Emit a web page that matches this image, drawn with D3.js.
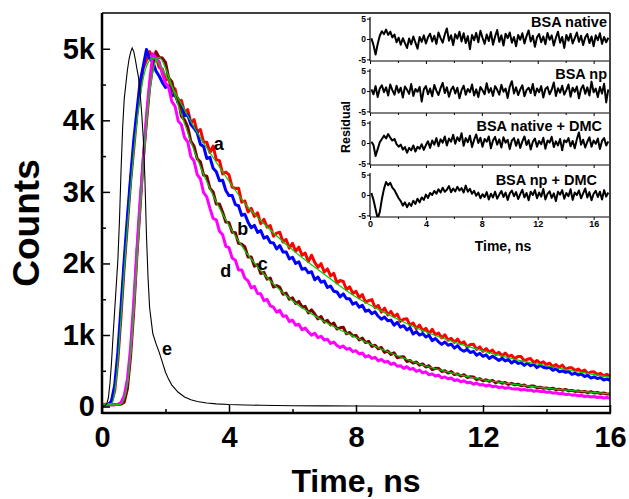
<!DOCTYPE html>
<html>
<head>
<meta charset="utf-8">
<script src="https://d3js.org/d3.v7.min.js"></script>
<style>
  body { margin: 0; background: #fff; }
  svg { display: block; }
</style>
</head>
<body>
<svg width="629" height="499"></svg>
<script>
const FONT = '"Liberation Sans", Arial, sans-serif';

// decay traces are sampled every 0.1 ns, 0..16 ns
const channelTimes = d3.range(161).map(i => i / 10);

// a - red
const decayA = [
  24, 31, 26, 62, 215, 650, 1270, 1960, 2540, 3140,
  3600, 4080, 4410, 4730, 4840, 4960, 4880, 4900, 4740, 4720,
  4560, 4590, 4410, 4440, 4250, 4280, 4110, 4150, 3960, 4010,
  3837, 3871, 3697, 3693, 3551, 3640, 3452, 3436, 3251, 3278,
  3237, 3067, 3049, 3052, 2857, 2873, 2720, 2770, 2658, 2707,
  2557, 2617, 2507, 2529, 2381, 2423, 2436, 2300, 2336, 2213,
  2281, 2168, 2227, 2116, 2145, 2025, 2115, 2015, 1946, 1997,
  1880, 1923, 1826, 1861, 1726, 1761, 1748, 1635, 1673, 1581,
  1610, 1522, 1565, 1458, 1481, 1495, 1380, 1415, 1320, 1376,
  1282, 1329, 1256, 1293, 1191, 1219, 1228, 1137, 1167, 1087,
  1139, 1061, 1093, 1016, 1079, 1002, 1026, 960, 1004, 928,
  953, 898, 943, 878, 904, 830, 866, 872, 798, 835,
  772, 811, 760, 789, 729, 758, 708, 748, 698, 718,
  668, 699, 699, 640, 661, 671, 613, 644, 605, 626,
  586, 606, 557, 587, 548, 579, 520, 541, 542, 504,
  525, 487, 509, 461, 483, 485, 448, 465, 428, 451,
  425
];

// b - blue
const decayB = [
  22, 28, 25, 80, 300, 760, 1400, 2050, 2650, 3200,
  3720, 4130, 4540, 4760, 4990, 4860, 4820, 4690, 4620, 4530,
  4460, 4480, 4340, 4365, 4240, 4221, 4064, 4078, 3943, 3890,
  3826, 3664, 3635, 3467, 3482, 3330, 3282, 3156, 3162, 3019,
  2948, 2949, 2822, 2806, 2671, 2688, 2577, 2500, 2532, 2435,
  2459, 2353, 2377, 2292, 2287, 2203, 2250, 2160, 2161, 2063,
  2086, 1999, 2023, 1918, 1933, 1869, 1885, 1772, 1810, 1737,
  1755, 1664, 1683, 1612, 1602, 1533, 1574, 1506, 1508, 1431,
  1454, 1390, 1416, 1332, 1349, 1297, 1324, 1262, 1221, 1250,
  1199, 1208, 1138, 1178, 1109, 1130, 1071, 1102, 1014, 1047,
  999, 1021, 973, 996, 919, 952, 905, 869, 903, 857,
  872, 817, 852, 797, 773, 799, 755, 771, 718, 745,
  702, 722, 673, 703, 674, 645, 676, 637, 658, 609,
  641, 602, 614, 576, 608, 570, 592, 544, 576, 549,
  538, 548, 507, 527, 487, 498, 478, 489, 450, 466,
  442, 453, 420, 436, 398, 415, 392, 405, 372, 385,
  368
];

// c - brown
const decayC = [
  26, 23, 28, 25, 27, 30, 34, 60, 250, 700,
  1340, 2120, 2790, 3470, 3980, 4460, 4760, 4960, 4880, 4870,
  4810, 4590, 4540, 4340, 4300, 4060, 4005, 3910, 3705, 3640,
  3460, 3420, 3235, 3220, 3050, 3000, 2830, 2830, 2715, 2580,
  2570, 2435, 2430, 2280, 2270, 2230, 2090, 2090, 1960, 1985,
  1860, 1875, 1780, 1795, 1670, 1690, 1665, 1570, 1585, 1500,
  1520, 1440, 1470, 1390, 1400, 1310, 1352, 1294, 1226, 1258,
  1180, 1206, 1142, 1168, 1084, 1100, 1108, 1017, 1036, 985,
  995, 931, 957, 894, 911, 839, 858, 807, 826, 756,
  777, 728, 750, 682, 694, 697, 630, 644, 608, 623,
  579, 596, 553, 570, 517, 535, 533, 491, 500, 469,
  488, 447, 457, 426, 446, 407, 417, 413, 379, 390,
  361, 374, 352, 366, 334, 348, 327, 336, 310, 324,
  303, 313, 292, 302, 276, 286, 286, 266, 271, 256,
  261, 247, 257, 238, 243, 229, 240, 220, 226, 212,
  218, 205, 211, 197, 208, 190, 196, 183, 189, 176,
  177
];

// d - magenta
const decayD = [
  25, 28, 24, 27, 26, 31, 58, 150, 380, 820,
  1460, 2190, 2870, 3440, 4060, 4540, 4930, 4870, 4820, 4650,
  4520, 4460, 4260, 4200, 3990, 3940, 3760, 3700, 3490, 3430,
  3240, 3180, 2990, 2930, 2770, 2630, 2610, 2450, 2400, 2240,
  2220, 2075, 2045, 1910, 1910, 1795, 1755, 1660, 1680, 1580,
  1575, 1480, 1498, 1407, 1388, 1320, 1345, 1260, 1268, 1187,
  1207, 1138, 1150, 1073, 1097, 1042, 998, 1025, 963, 982,
  931, 941, 881, 902, 853, 825, 847, 800, 813, 767,
  781, 735, 749, 693, 713, 673, 688, 639, 660, 621,
  632, 589, 606, 563, 571, 534, 557, 520, 534, 492,
  510, 472, 485, 444, 457, 426, 440, 400, 414, 389,
  399, 365, 375, 346, 362, 334, 340, 312, 329, 301,
  308, 287, 302, 276, 286, 265, 275, 255, 265, 250,
  245, 250, 230, 241, 226, 232, 212, 223, 209, 215,
  199, 204, 188, 193, 178, 183, 168, 173, 159, 164,
  150, 156, 141, 147, 134, 140, 126, 133, 119, 126,
  115
];

// e - instrument response (black)
const irfTimes = [
  0, 0.1, 0.15, 0.2, 0.25, 0.3, 0.35, 0.4, 0.45, 0.5,
  0.55, 0.6, 0.65, 0.7, 0.75, 0.8, 0.85, 0.9, 0.95, 1.0,
  1.05, 1.1, 1.15, 1.2, 1.25, 1.3, 1.35, 1.4, 1.45, 1.5,
  1.6, 1.7, 1.8, 1.9, 2.0, 2.1, 2.2, 2.4, 2.6, 2.8,
  3.0, 3.3, 3.6, 4.0, 4.5, 5, 6, 7, 8, 10,
  12, 14, 16
];
const irfCounts = [
  8, 12, 40, 120, 320, 620, 1000, 1350, 1700, 2050,
  2600, 3300, 3900, 4300, 4500, 4700, 4850, 4950, 5010, 4960,
  4850, 4720, 4600, 4380, 4100, 3750, 3200, 2400, 1800, 1380,
  1020, 880, 760, 620, 480, 380, 300, 200, 135, 95,
  70, 50, 38, 28, 22, 18, 12, 10, 8, 5,
  4, 3, 3
];

// fitted curves (green)
const fitTimes = [
  0, 0.3, 0.4, 0.5, 0.6, 0.7, 0.8, 0.9, 1.0, 1.1,
  1.2, 1.3, 1.4, 1.5, 1.6, 1.7, 1.8, 1.9, 2.0, 2.5,
  3.0, 3.5, 4.0, 4.5, 5.0, 6.0, 7.0, 8.0, 9.0, 10.0,
  11.0, 12.0, 13.0, 14.0, 15.0, 16.0
];
const fitA = [
  25, 40, 200, 620, 1250, 1900, 2500, 3050, 3550, 3980,
  4330, 4590, 4750, 4840, 4870, 4850, 4790, 4720, 4640, 4230,
  3830, 3480, 3150, 2840, 2600, 2190, 1850, 1530, 1290, 1080,
  915, 778, 660, 570, 485, 410
];
const fitC = [
  25, 25, 25, 26, 35, 110, 310, 740, 1340, 2050,
  2750, 3400, 3950, 4380, 4680, 4840, 4880, 4830, 4730, 4080,
  3460, 2950, 2530, 2180, 1900, 1480, 1190, 965, 765, 595,
  470, 375, 310, 258, 215, 178
];

// residuals, every 0.15 ns from 0.1 ns
const residTimes = d3.range(114).map(i => 0.1 + i * 0.15);
const residNative = [
  0.2, -1.5, -3.8, -1.2, 0.8, 1.9, 1.2, 2.3, 1.0, 1.8,
  0.4, 1.1, -0.8, 0.3, -1.4, 0.2, -1.0, -2.2, 0.1, -1.3,
  0.6, -0.9, -2.4, 0.5, -0.7, 0.9, -1.1, 0.4, 1.3, -0.6,
  0.8, -1.2, 1.6, 0.2, -0.9, 1.1, 2.6, -0.4, 0.9, -1.5,
  1.2, 0.1, 1.8, -0.6, 1.4, -1.0, 0.7, -2.5, 1.0, -0.3,
  1.5, -0.8, 2.0, 0.3, -1.2, 1.1, -0.5, 1.7, -1.4, 0.6,
  2.2, -0.7, 0.9, -1.6, 1.3, 0.2, 1.6, -0.9, 0.5, -1.8,
  1.0, -0.2, 1.4, -1.1, 0.7, 2.1, -0.6, 0.8, -1.9, 0.4,
  1.2, -0.8, 0.6, -1.3, 1.5, -0.2, 0.9, -1.6, 0.3, 1.8,
  -0.9, 0.5, -2.2, 1.0, -0.4, 1.3, -1.1, 0.2, 1.6, -0.7,
  0.8, -1.5, 0.4, 1.2, -1.0, 0.6, -1.8, 0.9, -0.3, 1.4,
  -1.2, 0.5, -0.8, 0.3
];
const residNp = [
  0.4, -0.8, 1.2, -1.5, 0.6, 1.4, -0.3, 0.9, -1.1, 1.6,
  0.2, -0.9, 1.3, -0.4, 0.8, -1.6, 1.1, 0.3, -0.7, 1.7,
  -1.2, 0.5, -0.2, 1.0, -2.6, 0.4, 1.2, -0.8, 0.6, -1.3,
  1.5, 0.1, -1.0, 0.7, 2.0, -0.5, 0.9, -1.4, 0.3, 1.1,
  -0.6, 0.8, -1.8, 0.2, 1.3, -0.9, 0.5, -0.3, 1.6, -1.1,
  0.4, -1.5, 1.0, 0.2, -0.8, 1.9, -0.4, 0.7, -1.2, 1.2,
  0.3, -0.9, 1.5, -0.2, 0.6, -1.7, 1.1, 2.4, -0.6, 0.9,
  -1.0, 0.4, 1.4, -1.3, 0.2, 0.8, -0.5, 1.7, -1.1, 0.6,
  -0.3, 1.2, -1.6, 0.5, 1.0, -0.8, 0.3, 2.1, -1.2, 0.7,
  -0.4, 1.3, -0.9, 0.2, 1.6, -1.4, 0.8, -0.2, 1.1, -1.8,
  0.5, 1.4, -0.7, 0.9, -1.1, 2.3, -0.3, 0.6, -1.5, 1.0,
  -0.6, 1.8, -2.8, 0.4
];
const residNativeDmc = [
  0.3, -0.5, -3.2, -1.5, 0.2, 1.0, 1.8, 1.1, 2.2, 1.3,
  0.6, 1.0, -0.3, -0.9, -0.4, -1.6, -1.0, -2.4, -1.2, -1.8,
  -0.6, -2.1, -0.9, -1.4, -0.3, -1.7, -0.5, 0.4, -1.2, 0.6,
  -0.4, 1.2, -0.8, 0.9, 0.1, 1.6, -0.6, 1.1, 0.3, 2.0,
  -0.2, 1.4, 0.5, 2.4, -0.7, 1.2, 0.2, 1.8, -1.0, 0.8,
  2.1, 0.0, 1.3, -0.9, 1.0, 0.3, 1.6, -1.3, 0.6, 1.5,
  -0.4, 0.9, -1.1, 1.4, 0.1, 0.8, -1.5, 0.6, 1.2, -0.7,
  0.9, -1.2, 0.4, 1.6, -0.5, 0.7, -1.6, 0.3, 1.1, -0.9,
  0.5, -0.3, 1.3, -1.4, 0.6, 0.1, 1.5, -1.0, 0.4, -0.6,
  1.0, -1.8, 0.7, 0.2, 1.2, -0.8, 0.5, -1.3, 0.9, 2.6,
  -0.4, 0.8, -1.1, 0.3, 1.4, -0.9, 0.6, -0.2, 1.1, -1.5,
  0.5, 1.2, -0.6, 0.4
];
const residNpDmc = [
  0.5, -1.2, -3.5, -5.8, -4.2, -1.0, 1.5, 3.2, 2.4, 3.0,
  1.8, 1.2, 0.2, -0.8, -1.5, -2.6, -1.8, -3.0, -2.0, -2.7,
  -1.4, -2.2, -0.9, -1.8, -0.6, -1.2, 0.1, -0.7, 0.5, 0.0,
  1.0, 0.3, 1.4, 0.6, 1.8, 0.8, 1.3, 2.2, 0.7, 1.6,
  0.9, 2.0, 1.1, 1.7, 0.6, 2.3, 0.8, 1.5, 0.3, 1.0,
  -0.2, 0.6, -0.8, 0.2, -0.5, 0.7, -1.1, 0.3, -0.6, 0.8,
  -0.9, 0.1, 1.0, -0.5, 0.6, -1.2, 0.4, 1.1, -0.3, 0.7,
  -1.0, 0.2, 1.3, -0.6, 0.5, -1.3, 0.8, 0.0, 1.2, -0.8,
  0.6, -0.4, 1.5, -1.1, 0.3, 0.9, -0.7, 0.4, -1.5, 0.8,
  0.1, 1.2, -0.9, 0.5, -0.3, 1.4, -1.2, 0.6, 0.0, 1.1,
  -0.8, 0.4, 1.6, -0.6, 0.7, -1.3, 0.3, 1.0, -0.5, 0.8,
  -1.1, 1.2, -0.4, 0.6
];

const countTicks = [0, 1000, 2000, 3000, 4000, 5000];
const countLabels = ["0", "1k", "2k", "3k", "4k", "5k"];
const countMinor = [500, 1500, 2500, 3500, 4500];
const timeTicks = [0, 4, 8, 12, 16];
const timeMinor = [2, 6, 10, 14];
const residTicks = [-5, 0, 5];
const panelNames = ["BSA native", "BSA np", "BSA native + DMC", "BSA np + DMC"];

// curve letters, anchored in data space (time, counts)
const curveTags = [
  { text: "a", t: 3.68, v: 3584 },
  { text: "b", t: 4.43, v: 2400 },
  { text: "c", t: 5.06, v: 1908 },
  { text: "d", t: 3.9, v: 1810 },
  { text: "e", t: 2.05, v: 720 }
];

const svg = d3.select("svg");
const plot = { left: 102, right: 610, top: 13, bottom: 413 };

const x = d3.scaleLinear().domain([0, 16]).range([plot.left, plot.right]);
const y = d3.scaleLinear().domain([-90, 5500]).range([plot.bottom, plot.top]);

function styleText(sel, size) {
  sel.attr("font-family", FONT).attr("font-weight", "bold")
    .attr("font-size", size).attr("fill", "#000");
}

// ---- main plot curves ----
svg.append("defs").append("clipPath").attr("id", "plotClip")
  .append("rect")
  .attr("x", plot.left).attr("y", plot.top)
  .attr("width", plot.right - plot.left)
  .attr("height", plot.bottom - plot.top);

const curves = svg.append("g").attr("clip-path", "url(#plotClip)");

const traceLine = d3.line()
  .x((d, i) => x(channelTimes[i]))
  .y(d => y(d));

const traces = [
  { values: decayA, color: "#ff0000" },
  { values: decayB, color: "#0000ff" },
  { values: decayC, color: "#800000" },
  { values: decayD, color: "#ff00ff" }
];
traces.forEach(tr => {
  curves.append("path")
    .attr("d", traceLine(tr.values))
    .attr("fill", "none")
    .attr("stroke", tr.color)
    .attr("stroke-width", 3)
    .attr("stroke-linejoin", "round");
});

const fitLine = d3.line()
  .curve(d3.curveMonotoneX)
  .x((d, i) => x(fitTimes[i]))
  .y(d => y(d));

[fitA, fitC].forEach(f => {
  curves.append("path")
    .attr("d", fitLine(f))
    .attr("fill", "none")
    .attr("stroke", "#00d000")
    .attr("stroke-width", 1.2);
});

const irfLine = d3.line()
  .x((d, i) => x(irfTimes[i]))
  .y(d => y(d));

curves.append("path")
  .attr("d", irfLine(irfCounts))
  .attr("fill", "none")
  .attr("stroke", "#000")
  .attr("stroke-width", 1.1);

// ---- main axes ----
const xAxis = svg.append("g")
  .attr("transform", `translate(0,${plot.bottom})`)
  .call(d3.axisBottom(x).tickValues(timeTicks).tickSizeInner(-8).tickSizeOuter(0).tickPadding(13));
xAxis.select(".domain").remove();
xAxis.selectAll("line").attr("stroke-width", 1.5);
styleText(xAxis, 29);
styleText(xAxis.selectAll("text"), 29);

const xMinor = svg.append("g")
  .attr("transform", `translate(0,${plot.bottom})`)
  .call(d3.axisBottom(x).tickValues(timeMinor).tickSizeInner(-4).tickSizeOuter(0).tickFormat(""));
xMinor.select(".domain").remove();
xMinor.selectAll("line").attr("stroke-width", 1.5);

const yAxis = svg.append("g")
  .attr("transform", `translate(${plot.left},0)`)
  .call(d3.axisLeft(y).tickValues(countTicks).tickSizeInner(-8).tickSizeOuter(0).tickPadding(7)
    .tickFormat((d, i) => countLabels[i]));
yAxis.select(".domain").remove();
yAxis.selectAll("line").attr("stroke-width", 1.5);
styleText(yAxis, 29);
styleText(yAxis.selectAll("text"), 29);

const yMinor = svg.append("g")
  .attr("transform", `translate(${plot.left},0)`)
  .call(d3.axisLeft(y).tickValues(countMinor).tickSizeInner(-4).tickSizeOuter(0).tickFormat(""));
yMinor.select(".domain").remove();
yMinor.selectAll("line").attr("stroke-width", 1.5);

// frame
const frame = svg.append("g").attr("stroke", "#000").attr("fill", "none");
frame.append("line").attr("x1", plot.left).attr("x2", plot.right + 1)
  .attr("y1", plot.bottom).attr("y2", plot.bottom).attr("stroke-width", 2.5);
frame.append("line").attr("x1", plot.left).attr("x2", plot.left)
  .attr("y1", plot.top).attr("y2", plot.bottom + 1).attr("stroke-width", 2.5);
frame.append("line").attr("x1", plot.left).attr("x2", plot.right)
  .attr("y1", plot.top).attr("y2", plot.top).attr("stroke-width", 1.5);
frame.append("line").attr("x1", plot.right).attr("x2", plot.right)
  .attr("y1", plot.top).attr("y2", plot.bottom).attr("stroke-width", 1.5);

// axis titles
svg.append("text")
  .attr("x", (plot.left + plot.right) / 2).attr("y", 492)
  .attr("text-anchor", "middle")
  .text("Time, ns")
  .call(styleText, 32);

svg.append("text")
  .attr("transform", "translate(39,223) rotate(-90)")
  .attr("text-anchor", "middle")
  .text("Counts")
  .call(styleText, 37);

// curve letters
svg.selectAll(".tag")
  .data(curveTags)
  .enter()
  .append("text")
  .attr("class", "tag")
  .attr("x", d => x(d.t))
  .attr("y", d => y(d.v))
  .attr("text-anchor", "middle")
  .text(d => d.text)
  .call(styleText, 18);

// ---- inset with residuals ----
const inset = svg.append("g");
inset.append("rect")
  .attr("x", 336).attr("y", plot.top + 1)
  .attr("width", plot.right - 337).attr("height", 244)
  .attr("fill", "#fff");

const rx = d3.scaleLinear().domain([0, 17.1]).range([370, 609]);
const panelTop = [17, 69, 121, 173];
const panelH = 44;
const nameRight = [607, 607, 602, 597];
const nameBase = [27, 79, 131, 185];
const residSets = [residNative, residNp, residNativeDmc, residNpDmc];

residSets.forEach((values, k) => {
  const top = panelTop[k];
  const ry = d3.scaleLinear().domain([-5.4, 5.4]).range([top + panelH, top]);
  const g = inset.append("g");

  g.append("clipPath").attr("id", "rclip" + k)
    .append("rect")
    .attr("x", rx(0)).attr("y", top)
    .attr("width", rx(17.1) - rx(0)).attr("height", panelH);

  const residLine = d3.line()
    .x((d, i) => rx(residTimes[i]))
    .y(d => ry(d));

  g.append("path")
    .attr("d", residLine(values))
    .attr("clip-path", `url(#rclip${k})`)
    .attr("fill", "none")
    .attr("stroke", "#000")
    .attr("stroke-width", 2)
    .attr("stroke-linejoin", "round");

  // left axis
  const la = g.append("g")
    .attr("transform", `translate(${rx(0)},0)`)
    .call(d3.axisLeft(ry).tickValues(residTicks).tickSizeInner(3).tickSizeOuter(0).tickPadding(1)
      .tickFormat(d => String(d)));
  la.select(".domain").remove();
  styleText(la, 8.5);
  styleText(la.selectAll("text"), 8.5);

  // bottom axis
  const ba = g.append("g")
    .attr("transform", `translate(0,${top + panelH})`)
    .call(d3.axisBottom(rx).tickValues(timeTicks).tickSizeInner(3).tickSizeOuter(0).tickPadding(1)
      .tickFormat(k === 3 ? (d => String(d)) : ""));
  ba.select(".domain").remove();
  styleText(ba, 9);
  styleText(ba.selectAll("text"), 9);

  const bm = g.append("g")
    .attr("transform", `translate(0,${top + panelH})`)
    .call(d3.axisBottom(rx).tickValues(timeMinor).tickSizeInner(2).tickSizeOuter(0).tickFormat(""));
  bm.select(".domain").remove();

  g.append("line")
    .attr("x1", rx(0)).attr("x2", rx(0))
    .attr("y1", top).attr("y2", top + panelH)
    .attr("stroke", "#000").attr("stroke-width", 1.2);
  g.append("line")
    .attr("x1", rx(0)).attr("x2", rx(17.1))
    .attr("y1", top + panelH).attr("y2", top + panelH)
    .attr("stroke", "#000").attr("stroke-width", 1.2);

  g.append("text")
    .attr("x", nameRight[k]).attr("y", nameBase[k])
    .attr("text-anchor", "end")
    .text(panelNames[k])
    .call(styleText, 14.5);
});

inset.append("text")
  .attr("transform", "translate(350,127) rotate(-90)")
  .attr("text-anchor", "middle")
  .text("Residual")
  .call(styleText, 12.5);

inset.append("text")
  .attr("x", 503).attr("y", 251)
  .attr("text-anchor", "middle")
  .text("Time, ns")
  .call(styleText, 14);
</script>
</body>
</html>
